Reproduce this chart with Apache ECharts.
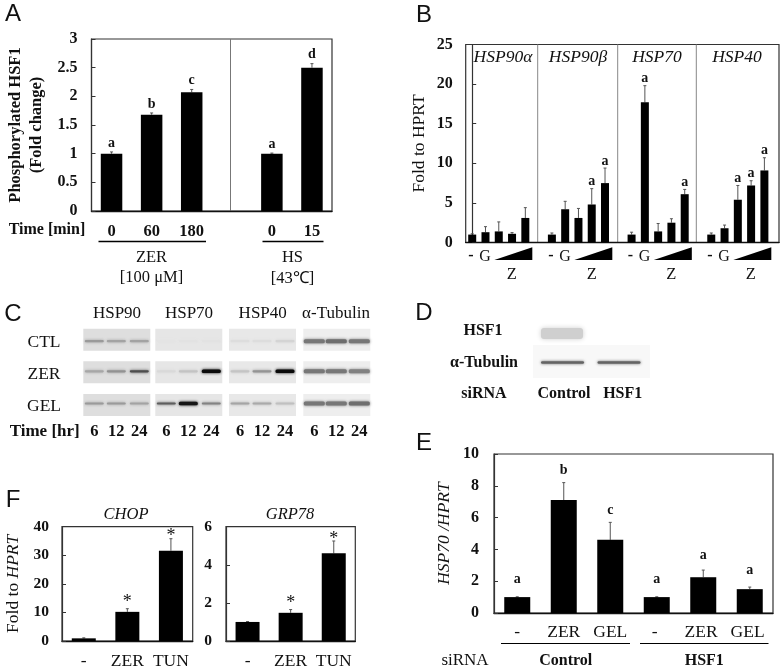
<!DOCTYPE html>
<html><head><meta charset="utf-8">
<style>html,body{margin:0;padding:0;background:#fff}#c{width:782px;height:670px;filter:blur(.4px)}</style>
<script src="https://cdn.jsdelivr.net/npm/echarts@6/dist/echarts.min.js"></script>
</head><body><div id="c"></div>
<script>
// ---------- data ----------
const catsA = ['0','60','180','','0','15'];
const valsA = [1.0,1.68,2.07,null,1.0,2.5];
const topsA = [1.03,1.71,2.12,null,1.01,2.57];
const lettersA = ['a','b','c','','a','d'];

const slotsB = [0,1,2,3,4, 6,7,8,9,10, 12,13,14,15,16, 18,19,20,21,22];
const valsB = [1,1.3,1.4,1.1,3.1, 1,4.2,3.1,4.8,7.5, 1,17.7,1.4,2.5,6.1, 1,1.8,5.4,7.2,9.1];
const topsB = [1.1,2.0,2.6,1.25,4.4, 1.2,5.2,4.3,6.8,9.4, 1.3,19.8,2.4,3.0,6.7, 1.2,2.2,7.2,7.8,10.7];
const lettersB = ['','','','','', '','','','a','a', '','a','','','a', '','','a','a','a'];
const genesB = ['HSP90α','HSP90β','HSP70','HSP40'];

const catsE = ['-','ZER','GEL','- ','ZER ','GEL '];
const valsE = [1,7.1,4.6,1,2.25,1.5];
const topsE = [1.02,8.2,5.7,1.02,2.7,1.63];
const lettersE = ['a','b','c','a','a','a'];

const catsF = ['-','ZER','TUN'];
const valsChop = [0.93,10.2,31.6];
const topsChop = [1.1,11.3,35.8];
const marksChop = ['','*','*'];
const valsGrp = [1,1.48,4.6];
const topsGrp = [1.02,1.65,5.25];
const marksGrp = ['','*','*'];

// blot band strengths, rows CTL / ZER / GEL, lanes 6 / 12 / 24 h
const blotHsp90 = [[.32,.28,.28],[.26,.36,.68],[.32,.32,.28]];
const blotHsp70 = [[.01,.02,.02],[.06,.16,1],[.62,.95,.45]];
const blotHsp40 = [[.05,.05,.09],[.16,.38,1],[.3,.28,.18]];
const blotTub   = [[.52,.56,.52],[.52,.52,.48],[.52,.52,.56]];
const rowsC = ['CTL','ZER','GEL'];
const timesC = ['6','12','24'];

// ---------- helpers ----------
const SERIF = '"Liberation Serif"';
const g = [];
function T(x,y,text,font,extra){
  g.push(Object.assign({type:'text',x,y,silent:true,style:{text,font:font||`16.5px ${SERIF}`,fill:'#111',textAlign:'center',textVerticalAlign:'middle'}},extra||{}));
}
function L(x1,y1,x2,y2,color,w){g.push({type:'line',silent:true,shape:{x1,y1,x2,y2},style:{stroke:color||'#000',lineWidth:w||1}});}
function Tri(x1,x2,yb,yt){g.push({type:'polygon',silent:true,shape:{points:[[x1,yb],[x2,yb],[x2,yt]]},style:{fill:'#000'}});}
function Band(cx,cy,w,s,h,bgV){
  const v=Math.round(bgV-(bgV-10)*s);
  const col=`rgb(${v},${v},${v})`;
  g.push({type:'rect',silent:true,shape:{x:cx-w/2,y:cy-h/2,width:w,height:h,r:1.5},style:{fill:col,shadowBlur:3,shadowColor:col}});
}
function Blot(x,y,w,h,bgV){g.push({type:'rect',silent:true,shape:{x,y,width:w,height:h},style:{fill:`rgb(${bgV},${bgV},${bgV})`}});}

const grid=[],xAxis=[],yAxis=[],series=[];
function panel(box,xa,ya){
  const i=grid.length;
  grid.push({left:box.l,top:box.t,width:box.r-box.l,height:box.b-box.t,show:true,borderColor:'#333',borderWidth:1.2,backgroundColor:'transparent'});
  xAxis.push(Object.assign({gridIndex:i,axisLine:{show:true,onZero:false,lineStyle:{color:'#111',width:1.4}},axisTick:{show:false},splitLine:{show:false}},xa));
  yAxis.push(Object.assign({gridIndex:i,type:'value',splitLine:{show:false},axisLine:{show:true,lineStyle:{color:'#333',width:1.2}},axisTick:{show:true,inside:true,length:4,lineStyle:{color:'#333'}}},ya));
  return i;
}
function bars(i,data,w){
  series.push({type:'bar',xAxisIndex:i,yAxisIndex:i,data,barWidth:w,itemStyle:{color:'#000'},silent:true,animation:false});
}
function errs(i,xs,vals,tops,labels,gap,font){
  series.push({type:'custom',xAxisIndex:i,yAxisIndex:i,silent:true,animation:false,clip:false,
    data:tops.map((t,k)=>[xs[k],t]),encode:{x:0,y:1},
    renderItem(params,api){
      const k=params.dataIndex; if(tops[k]==null) return null;
      const p=api.coord([xs[k],tops[k]]), b=api.coord([xs[k],vals[k]]);
      const kids=[
        {type:'line',shape:{x1:p[0],y1:p[1],x2:p[0],y2:b[1]},style:{stroke:'#555',lineWidth:1}},
        {type:'line',shape:{x1:p[0]-1.5,y1:p[1],x2:p[0]+1.5,y2:p[1]},style:{stroke:'#555',lineWidth:1}}
      ];
      if(labels[k]) kids.push({type:'text',x:p[0],y:p[1]-(Array.isArray(gap)?gap[k]:gap),
        style:{text:labels[k],font,fill:'#111',textAlign:'center',textVerticalAlign:'middle'}});
      return {type:'group',children:kids};
    }});
}
const tickFont = s=>({color:'#111',fontFamily:'Liberation Serif',fontWeight:'bold',fontSize:s});
const PL = `24px "Liberation Sans"`;

// ---------- Panel A ----------
{
  const i=panel({l:91.5,r:332,t:39,b:211},
    {type:'category',data:catsA,axisLabel:{show:true,interval:0,margin:12,...tickFont(16.5)}},
    {min:0,max:3,interval:0.5,axisLabel:{margin:14,...tickFont(16)},
     name:'Phosphorylated HSF1\n(Fold change)',nameLocation:'middle',nameGap:44,nameRotate:90,
     nameTextStyle:{...tickFont(16.5),lineHeight:21}});
  bars(i,valsA,21.5);
  errs(i,[0,1,2,3,4,5],valsA,topsA,lettersA,9,`bold 14px ${SERIF}`);
  L(230.5,39,230.5,211,'#777',1);
  T(47,229.5,'Time [min]',`bold 16px ${SERIF}`);
  L(98.5,241.5,206,241.5,'#000',1.4); L(262.5,241.5,323.5,241.5,'#000',1.4);
  T(151.5,257.5,'ZER'); T(151.5,277.5,'[100 μM]');
  T(292.5,257.5,'HS'); T(292.5,279,'[43℃]');
  T(13,14,'A',PL);
}
// ---------- Panel B ----------
{
  const i=panel({l:465.7,r:779,t:44.5,b:242.5},
    {type:'value',min:-0.49,max:23.1,axisLabel:{show:false}},
    {min:0,max:25,interval:5,axisLabel:{margin:13,...tickFont(16)},
     name:'Fold to HPRT',nameLocation:'middle',nameGap:37,nameRotate:90,
     nameTextStyle:{color:'#111',fontFamily:'Liberation Serif',fontSize:17.5}});
  bars(i,slotsB.map((s,k)=>[s,valsB[k]]),8);
  errs(i,slotsB,valsB,topsB,lettersB,7,`bold 14px ${SERIF}`);
  [537.7,617.7,696.3].forEach(x=>L(x,44.5,x,242.5,'#888',1));
  const cx=[503,578,657,737];
  genesB.forEach((n,k)=>T(cx[k],57,n,`italic 17.5px ${SERIF}`));
  [0,80,159.5,239].forEach(d=>{
    T(471+d,256,'-',`bold 16px ${SERIF}`);
    T(485+d,257,'G',`16px ${SERIF}`);
    Tri(494.3+d,532.3+d,260,247.3);
    T(511.7+d,274.5,'Z',`16.5px ${SERIF}`);
  });
  T(424,15,'B',PL);
}
// ---------- Panel C (blots) ----------
{
  const colX=[83.3,155.3,229,303.3], rowY=[328.7,361.3,394], rowOff=[12.5,10,9.5];
  const bgs=[222,230,232,238];
  [blotHsp90,blotHsp70,blotHsp40,blotTub].forEach((b,c)=>{
    b.forEach((row,r)=>{
      Blot(colX[c],rowY[r],67,22,bgs[c]);
      row.forEach((s,l)=>{
        Band(colX[c]+[11,33,56][l],rowY[r]+rowOff[r],c===3?21:19,s,c===3?4:(s>.8?3.5:2.2),bgs[c]);
      });
    });
  });
  ['HSP90','HSP70','HSP40','α-Tubulin'].forEach((n,c)=>T([117,189,262.7,336][c],314,n,`17px ${SERIF}`));
  rowsC.forEach((n,r)=>T(44,[342,374,406.5][r],n,`17.5px ${SERIF}`));
  T(44.7,432,'Time [hr]',`bold 17px ${SERIF}`);
  colX.forEach(x=>timesC.forEach((t,l)=>T(x+[11,33,56][l],432,t,`bold 16.5px ${SERIF}`)));
  T(13,314,'C',PL);
}
// ---------- Panel D (blot) ----------
{
  Blot(533,345,117,33,248);
  g.push({type:'rect',silent:true,shape:{x:541,y:328,width:42,height:11,r:3},style:{fill:'#cfcfcf',shadowBlur:5,shadowColor:'#cfcfcf'}});
  Band(562.5,362.5,43,.62,2.5,248); Band(619,362.5,43,.62,2.5,248);
  const fd=`bold 16px ${SERIF}`;
  T(483,331,'HSF1',fd);
  T(484,363,'α-Tubulin',fd);
  T(484,394,'siRNA',fd);
  T(564,394,'Control',fd);
  T(622.7,394,'HSF1',fd);
  T(424,313,'D',PL);
}
// ---------- Panel E ----------
{
  const i=panel({l:494,r:773,t:454,b:613},
    {type:'category',data:catsE,axisLabel:{interval:0,margin:10,color:'#111',fontFamily:'Liberation Serif',fontSize:17.5}},
    {min:0,max:10,interval:2,axisLabel:{margin:15,...tickFont(16)},
     name:'HSP70 /HPRT',nameLocation:'middle',nameGap:41,nameRotate:90,
     nameTextStyle:{color:'#111',fontFamily:'Liberation Serif',fontStyle:'italic',fontSize:17.5}});
  bars(i,valsE,26);
  errs(i,[0,1,2,3,4,5],valsE,topsE,lettersE,[17,12,12,17,15,17],`bold 14px ${SERIF}`);
  L(501,643.5,630,643.5,'#000',1.2); L(640,643.5,768.5,643.5,'#000',1.2);
  T(465,660.5,'siRNA',`17px ${SERIF}`);
  T(565.7,660.5,'Control',`bold 16px ${SERIF}`);
  T(704.3,660.5,'HSF1',`bold 16px ${SERIF}`);
  T(424,443,'E',PL);
}
// ---------- Panel F ----------
{
  const xa=()=>({type:'category',data:catsF,axisLabel:{interval:0,margin:11,color:'#111',fontFamily:'Liberation Serif',fontSize:17.5}});
  const i=panel({l:62,r:192.7,t:526.7,b:642},xa(),
    {min:0,max:40,interval:10,axisLabel:{margin:13,...tickFont(15.5)},
     name:'Fold to {i|HPRT}',nameLocation:'middle',nameGap:40,nameRotate:90,
     nameTextStyle:{color:'#111',fontFamily:'Liberation Serif',fontSize:17.5,rich:{i:{fontStyle:'italic',fontFamily:'Liberation Serif',fontSize:17.5,color:'#111'}}}});
  bars(i,valsChop,24);
  errs(i,[0,1,2],valsChop,topsChop,marksChop,[0,6,2],`18px ${SERIF}`);
  const j=panel({l:226,r:355.3,t:526.7,b:642},xa(),
    {min:0,max:6,interval:2,axisLabel:{margin:14,...tickFont(15.5)}});
  bars(j,valsGrp,24);
  errs(j,[0,1,2],valsGrp,topsGrp,marksGrp,[0,6,2],`18px ${SERIF}`);
  T(126,515,'CHOP',`italic 16.5px ${SERIF}`);
  T(290,515,'GRP78',`italic 16.5px ${SERIF}`);
  T(13,500,'F',PL);
}

const chart=echarts.init(document.getElementById('c'),null,{width:782,height:670});
chart.setOption({animation:false,backgroundColor:'#fff',grid,xAxis,yAxis,series,graphic:g});
</script></body></html>
